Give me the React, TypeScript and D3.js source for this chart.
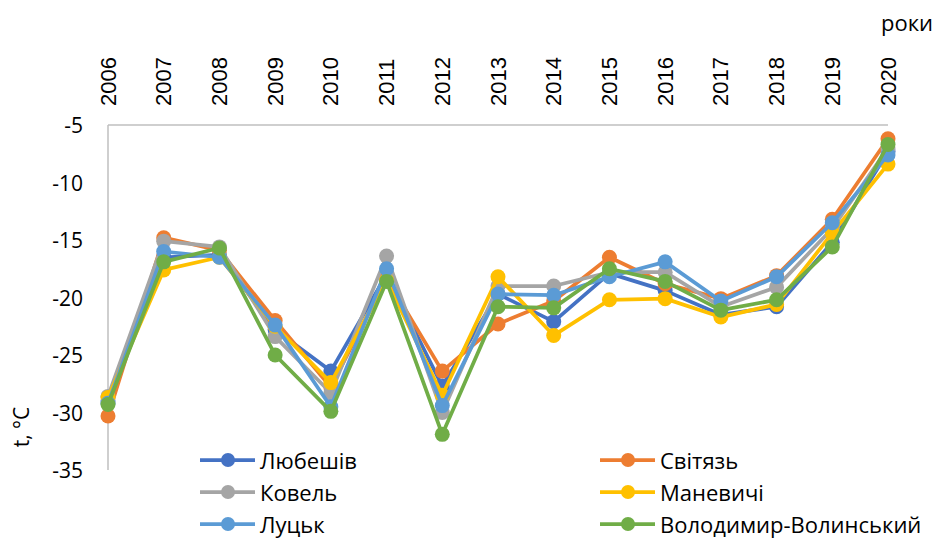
import React from "react";
import * as d3 from "d3";

const years = ["2006","2007","2008","2009","2010","2011","2012","2013","2014","2015","2016","2017","2018","2019","2020"];
const lyubeshiv = [-29.0,-16.5,-16.3,-22.8,-26.4,-18.0,-27.7,-19.7,-22.1,-17.9,-19.4,-21.5,-20.8,-15.2,-7.3];
const svityaz = [-30.3,-14.8,-15.9,-22.0,-27.8,-18.3,-26.4,-22.3,-20.3,-16.5,-18.8,-20.1,-18.1,-13.2,-6.2];
const kovel = [-28.6,-15.1,-15.6,-23.4,-28.3,-16.4,-30.0,-19.0,-19.0,-17.8,-17.8,-20.8,-19.1,-14.0,-7.0];
const manevychi = [-28.7,-17.6,-16.5,-22.5,-27.4,-18.5,-28.5,-18.2,-23.3,-20.2,-20.1,-21.7,-20.6,-14.4,-8.4];
const lutsk = [-29.2,-16.0,-16.5,-22.4,-29.5,-17.5,-29.4,-19.7,-19.8,-18.2,-16.9,-20.3,-18.2,-13.5,-7.6];
const volodymyr = [-29.3,-16.9,-15.7,-25.0,-29.9,-18.6,-31.9,-20.8,-20.9,-17.5,-18.6,-21.1,-20.2,-15.6,-6.7];
const yTicks = [-5,-10,-15,-20,-25,-30,-35];

const seriesNames = ["Любешів","Світязь","Ковель","Маневичі","Луцьк","Володимир-Волинський"];
const seriesValues = [lyubeshiv, svityaz, kovel, manevychi, lutsk, volodymyr];
const colors = ["#4472C4","#ED7D31","#A5A5A5","#FFC000","#5B9BD5","#70AD47"];

export default function App() {
  const W = 941, H = 538;
  const left = 108, right = 888, top = 125, bottom = 470;
  const x = d3.scalePoint<string>().domain(years).range([left, right]);
  const y = d3.scaleLinear().domain([-35, -5]).range([bottom, top]);
  const line = d3.line<number>().x((_, i) => x(years[i]) as number).y(d => y(d));
  const font = "'Open Sans', 'Noto Sans', sans-serif";
  const yearFont = "'Liberation Sans', Arial, sans-serif";
  const legendX = [200, 600];
  const legendY = [460, 492, 524];

  return (
    <svg width={W} height={H} style={{ position: "absolute", left: 0, top: 0, background: "#fff" }} fontFamily={font}>
      <rect x={0} y={0} width={W} height={H} fill="#fff" />
      <line x1={left} x2={right} y1={top} y2={top} stroke="#BFBFBF" strokeWidth={1.5} />
      <line x1={left} x2={left} y1={top} y2={bottom} stroke="#BFBFBF" strokeWidth={1.5} />
      {yTicks.map(t => (
        <text key={t} x={83} y={y(t)} textAnchor="end" dominantBaseline="central" fontSize={21} fill="#000">{t}</text>
      ))}
      {years.map(yr => (
        <text key={yr} transform={`translate(${x(yr)},106) rotate(-90)`} textAnchor="start" dominantBaseline="central" fontSize={22} fontFamily={yearFont} fill="#000">{yr}</text>
      ))}
      <text x={933} y={31} textAnchor="end" fontSize={22} fill="#000">роки</text>
      <text transform="translate(21,427) rotate(-90)" textAnchor="middle" dominantBaseline="central" fontSize={21} fill="#000">t, °C</text>
      {seriesValues.map((vals, si) => (
        <g key={si}>
          <path d={line(vals) || ""} fill="none" stroke={colors[si]} strokeWidth={3.75} strokeLinejoin="round" />
          {vals.map((v, i) => (
            <circle key={i} cx={x(years[i]) as number} cy={y(v)} r={7.5} fill={colors[si]} />
          ))}
        </g>
      ))}
      {seriesNames.map((n, i) => {
        const lx = legendX[i % 2];
        const ly = legendY[Math.floor(i / 2)];
        return (
          <g key={n}>
            <line x1={lx} x2={lx + 55} y1={ly} y2={ly} stroke={colors[i]} strokeWidth={3.75} />
            <circle cx={lx + 28} cy={ly} r={7} fill={colors[i]} />
            <text x={lx + 60} y={ly} dominantBaseline="central" fontSize={22} fill="#000">{n}</text>
          </g>
        );
      })}
    </svg>
  );
}
